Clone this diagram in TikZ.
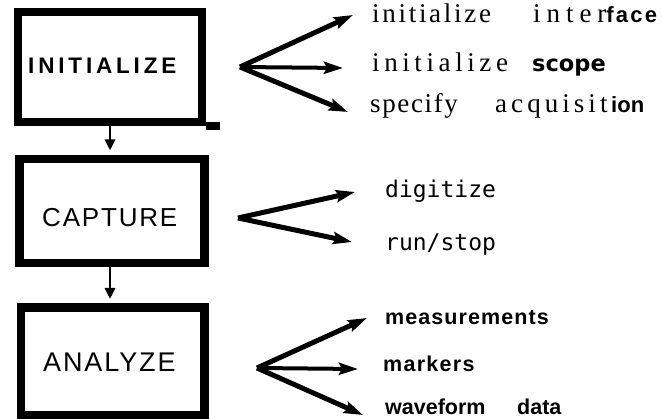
\documentclass[tikz,border=0pt]{standalone}
\usepackage{fontspec}
\setmainfont{Liberation Serif}
\newfontfamily\arialfam{Liberation Sans}
\newfontfamily\roundfam{DejaVu Sans}
\newfontfamily\plotfam{DejaVu Sans Mono}
\usetikzlibrary{arrows.meta}
% letter-spaced text: \tracked{amount}{text}
\newcommand\tracked[2]{{\addfontfeatures{LetterSpace=#1}#2}}
\newcommand\fsz[1]{\fontsize{#1}{#1}\selectfont}
\begin{document}
\begin{tikzpicture}[x=1pt,y=-1pt,
  box/.style={draw, line width=8.5pt, inner sep=0pt},
  txt/.style={anchor=base west, inner sep=0pt},
  serif/.style={txt, font=\rmfamily\fsz{27}},
  boldsans/.style={txt, font=\arialfam\bfseries\fsz{21.5}},
  plot/.style={txt, font=\plotfam\fsz{23}},
  fan/.style={line width=5pt, -{Stealth[length=19pt,width=12pt,inset=3pt]}},
  link/.style={line width=2.8pt, -{Triangle[length=11pt,width=10pt]}}]
\useasboundingbox (0,0) rectangle (662,419);

% the three stage boxes
\node[box, line width=8pt, minimum width=184pt, minimum height=109.5pt] (b1) at (110,67.25) {};
\draw[line width=8pt] (b1.south east) -- ++(14,0);
\node[box, minimum width=185pt, minimum height=104pt] (b2) at (112,211) {};
\node[box, minimum width=183.5pt, minimum height=107.5pt] (b3) at (112.75,361.25) {};

\node[txt, font=\arialfam\bfseries\fsz{22.5}] (n1) at (28,74) {\tracked{17}{INITIALIZE}};
\node[txt, font=\arialfam\fsz{26}] (n2) at (42,227) {\tracked{7}{CAPTURE}};
\node[txt, font=\arialfam\fsz{27}] (n3) at (43,372) {\tracked{7}{ANALYZE}};

% flow between stages
\coordinate (d1) at (110,122);
\coordinate (d2) at (110,264);
\draw[link, shorten >=4.25pt] (d1) -- (d1 |- b2.north);
\draw[link, shorten >=4.25pt] (d2) -- (d2 |- b3.north);

% INITIALIZE tasks
\coordinate (o1) at (240,67);
\coordinate (t11) at (353,15);
\coordinate (t12) at (343,68);
\coordinate (t13) at (348,112);
\draw[fan] (o1) -- (t11);
\draw[fan, line width=4pt] (o1) -- (t12);
\draw[fan] (o1) -- (t13);
\node[serif] (a1) at (372,23) {\tracked{10}{initialize}};
\node[serif] (a2) at (533,23) {\tracked{22}{inter}{\arialfam\bfseries\fsz{22}\tracked{10}{face}}};
\node[serif] (a3) at (372,72) {\tracked{17}{initialize}};
\node[txt, font=\roundfam\bfseries\fsz{22.5}] (a4) at (532,72) {scope};
\node[serif] (a5) at (370,113) {\tracked{6}{specify}};
\node[serif] (a6) at (495,113) {\tracked{15}{acquisit}};
\node[txt, font=\arialfam\bfseries\fsz{22}] (a7) at (611,113) {ion};

% CAPTURE tasks
\coordinate (o2) at (238,218);
\coordinate (t21) at (355,192);
\coordinate (t22) at (352,242);
\draw[fan] (o2) -- (t21);
\draw[fan] (o2) -- (t22);
\node[plot] (c1) at (385,198) {digitize};
\node[plot] (c2) at (385,251) {run/stop};

% ANALYZE tasks
\coordinate (o3) at (257,368);
\coordinate (t31) at (367,318);
\coordinate (t32) at (358,369);
\coordinate (t33) at (363,415);
\draw[fan] (o3) -- (t31);
\draw[fan, line width=4pt] (o3) -- (t32);
\draw[fan] (o3) -- (t33);
\node[boldsans] (m1) at (385,325) {\tracked{5}{measurements}};
\node[boldsans] (m2) at (383,372) {\tracked{6}{markers}};
\node[boldsans] (m3) at (385,415) {waveform};
\node[boldsans] (m4) at (517,415) {data};
\end{tikzpicture}
\end{document}
